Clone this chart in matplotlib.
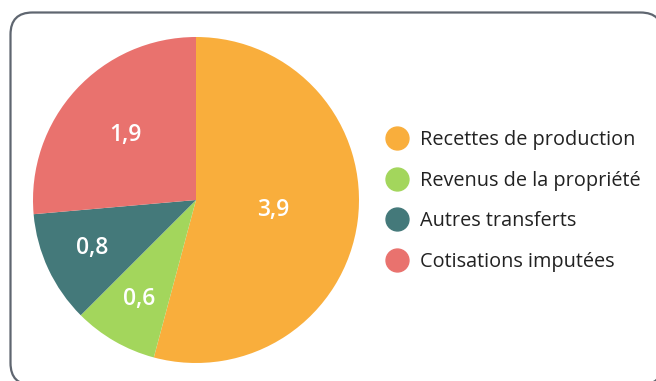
import numpy as np
import matplotlib.pyplot as plt
from matplotlib.lines import Line2D
from matplotlib.patches import FancyBboxPatch

plt.rcParams['font.family'] = ['Open Sans', 'DejaVu Sans']

categories = ["Recettes de production", "Revenus de la propriété",
              "Autres transferts", "Cotisations imputées"]
values = [3.9, 0.6, 0.8, 1.9]
value_labels = ["3,9", "0,6", "0,8", "1,9"]
colors = ["#F9AE3C", "#A3D65C", "#44797A", "#E9726E"]
label_radius = [0.48, 0.70, 0.70, 0.59]

W, H = 656, 381
fig = plt.figure(figsize=(W / 100, H / 100), dpi=100)

# background frame, drawn in pixel units
bg = fig.add_axes([0, 0, 1, 1])
bg.set_xlim(0, W)
bg.set_ylim(0, H)
bg.axis('off')
bg.add_patch(FancyBboxPatch((10.5, -4), 652, 372.5,
                            boxstyle="round,pad=0,rounding_size=22",
                            fc='white', ec='#5f6670', lw=1.6))

# pie
cx, cy, r = 196, 200, 163
ax = fig.add_axes([(cx - r) / W, (H - cy - r) / H, 2 * r / W, 2 * r / H])
wedges, _ = ax.pie(values, colors=colors, startangle=90, counterclock=False,
                   radius=1, wedgeprops=dict(linewidth=0))
ax.set_xlim(-1, 1)
ax.set_ylim(-1, 1)
ax.set_aspect('auto')
ax.axis('off')

for w, txt, d in zip(wedges, value_labels, label_radius):
    ang = np.deg2rad((w.theta1 + w.theta2) / 2)
    ax.text(d * np.cos(ang), d * np.sin(ang), txt, color='white',
            fontsize=16.5, fontweight='semibold', ha='center', va='center')

handles = [Line2D([], [], marker='o', linestyle='none', markersize=16.5,
                  markerfacecolor=c, markeredgecolor=c) for c in colors]
fig.legend(handles, categories, loc='center left',
           bbox_to_anchor=(375 / W, 1 - 201 / H), frameon=False,
           fontsize=14.3, labelspacing=1.05, handletextpad=0.5,
           handlelength=1.25, borderpad=0, labelcolor='#222222')

fig.savefig('out.png', dpi=100)
